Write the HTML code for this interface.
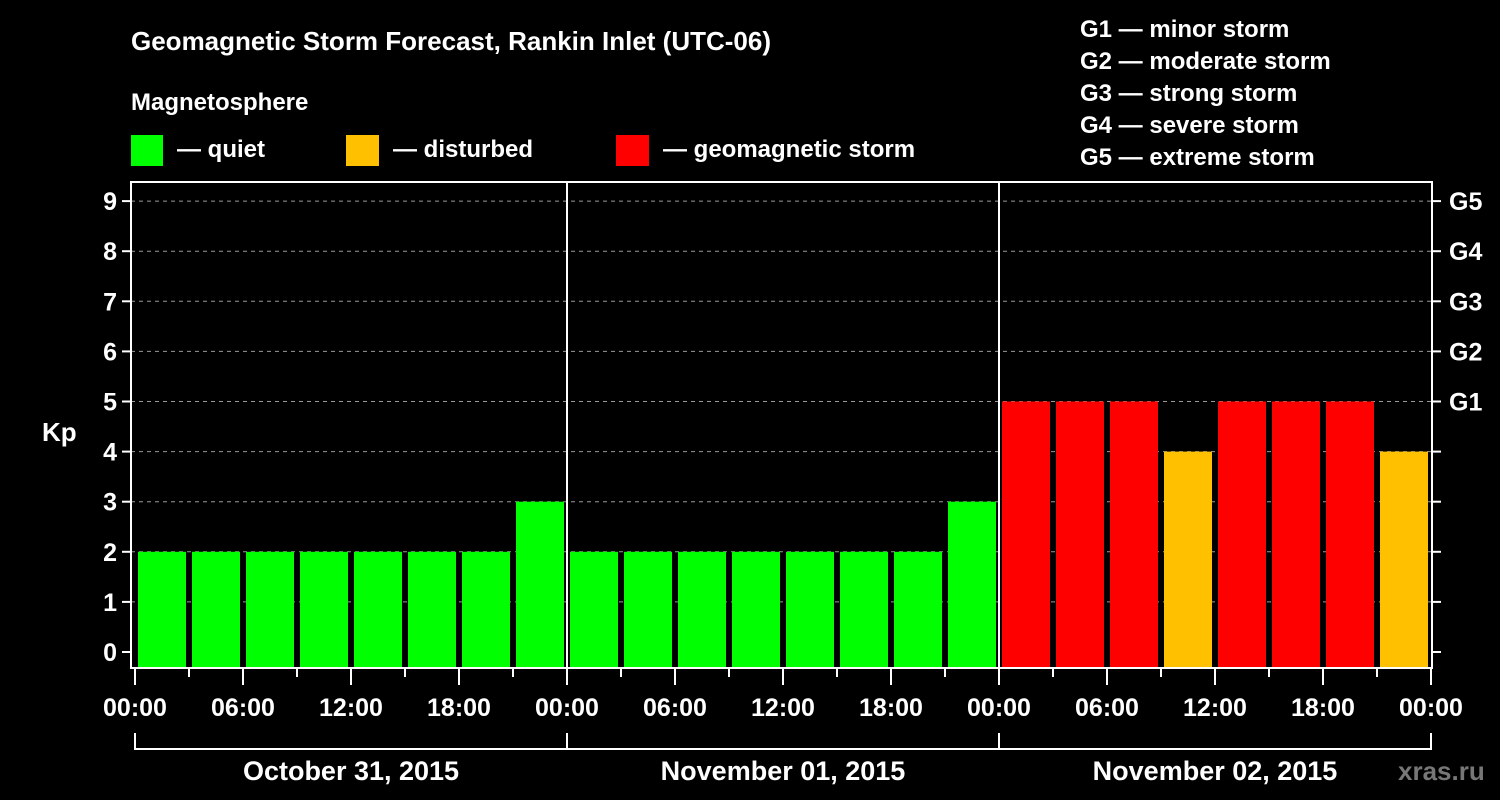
<!DOCTYPE html>
<html><head><meta charset="utf-8"><style>
body{margin:0;background:#000;width:1500px;height:800px;overflow:hidden}
svg{display:block;font-family:"Liberation Sans",Arial,sans-serif;font-weight:bold}
</style></head><body>
<svg id="c" width="1500" height="800">
<text x="131" y="50" fill="#fff" font-size="26">Geomagnetic Storm Forecast, Rankin Inlet (UTC-06)</text>
<text x="131" y="110" fill="#fff" font-size="24">Magnetosphere</text>
<g><rect x="131" y="135" width="32" height="31" fill="#00ff00"/><text x="177" y="157" fill="#fff" font-size="24">— quiet</text></g>
<g><rect x="346" y="135" width="33" height="31" fill="#ffc000"/><text x="393" y="157" fill="#fff" font-size="24">— disturbed</text></g>
<g><rect x="616" y="135" width="33" height="31" fill="#ff0000"/><text x="663" y="157" fill="#fff" font-size="24">— geomagnetic storm</text></g>
<g fill="#fff" font-size="24">
<text x="1080" y="37">G1 — minor storm</text><text x="1080" y="69">G2 — moderate storm</text><text x="1080" y="101">G3 — strong storm</text><text x="1080" y="133">G4 — severe storm</text><text x="1080" y="165">G5 — extreme storm</text></g>
<text x="42" y="441" fill="#fff" font-size="26">Kp</text>
<text x="1398" y="780" fill="#777" font-size="26">xras.ru</text>
<g id="grid"></g><g id="bars"></g><g id="axes"></g>
</svg>
<script>
const kpValues=[2,2,2,2,2,2,2,3, 2,2,2,2,2,2,2,3, 5,5,5,4,5,5,5,4];
const dayLabels=["October 31, 2015","November 01, 2015","November 02, 2015"];
const hourLabels=["00:00","06:00","12:00","18:00"];
const gLabels=["G1","G2","G3","G4","G5"];
const yTicks=[0,1,2,3,4,5,6,7,8,9];
const NS="http://www.w3.org/2000/svg";
const L=131,R=1432,T=182,B=668;
const y=k=>652-50.1*k;
const x=h=>135+h*18; // hours
function mk(t,a,p){const e=document.createElementNS(NS,t);for(const k in a)e.setAttribute(k,a[k]);p.appendChild(e);return e;}
const grid=document.getElementById('grid'),bars=document.getElementById('bars'),axes=document.getElementById('axes');
function col(k){return k>=5?'#ff0000':k>=4?'#ffc000':'#00ff00';}
yTicks.forEach(k=>{
  if(k>0){const g=mk('line',{x1:L,x2:R,y1:y(k),y2:y(k),stroke:'#999','stroke-dasharray':'4,4','stroke-width':1},grid);
  
  }
  const t=mk('line',{x1:L-9,x2:L,y1:y(k),y2:y(k),stroke:'#fff','stroke-width':2},axes);
  
  
  const t2=mk('line',{x1:R,x2:R+9,y1:y(k),y2:y(k),stroke:'#fff','stroke-width':2},axes);
  
  
  const lb=mk('text',{x:L-14,y:y(k)+9,fill:'#fff','font-size':25,'text-anchor':'end'},axes);lb.textContent=k;
  
  
});
gLabels.forEach((g,i)=>{const lb=mk('text',{x:1449,y:y(5+i)+9,fill:'#fff','font-size':25},axes);lb.textContent=g;
  
  });
kpValues.forEach((k,i)=>{const r=mk('rect',{x:x(i*3)+3,y:y(k),width:48,height:B-y(k),fill:col(k)},bars);
  
  });
mk('rect',{x:L,y:T,width:R-L,height:B-T,fill:'none',stroke:'#fff','stroke-width':2},axes);
for(let d=1;d<3;d++){const l=mk('line',{x1:x(d*24),x2:x(d*24),y1:T,y2:B,stroke:'#fff','stroke-width':2},axes);
  
  }
for(let h=0;h<=72;h+=3){const maj=h%6==0;
  const t=mk('line',{x1:x(h),x2:x(h),y1:B,y2:B+(maj?17:9),stroke:'#fff','stroke-width':2},axes);
  
  
  if(maj){const lb=mk('text',{x:x(h),y:716,fill:'#fff','font-size':25,'text-anchor':'middle'},axes);lb.textContent=hourLabels[(h/6)%4];
  
  }}
dayLabels.forEach((d,i)=>{
  mk('path',{d:`M${x(i*24)} 733V749H${x(i*24+24)}V733`,stroke:'#fff','stroke-width':2,fill:'none'},axes);
  const lb=mk('text',{x:x(i*24+12),y:780,fill:'#fff','font-size':27,'text-anchor':'middle'},axes);lb.textContent=d;
  
  
});
</script>
</body></html>
